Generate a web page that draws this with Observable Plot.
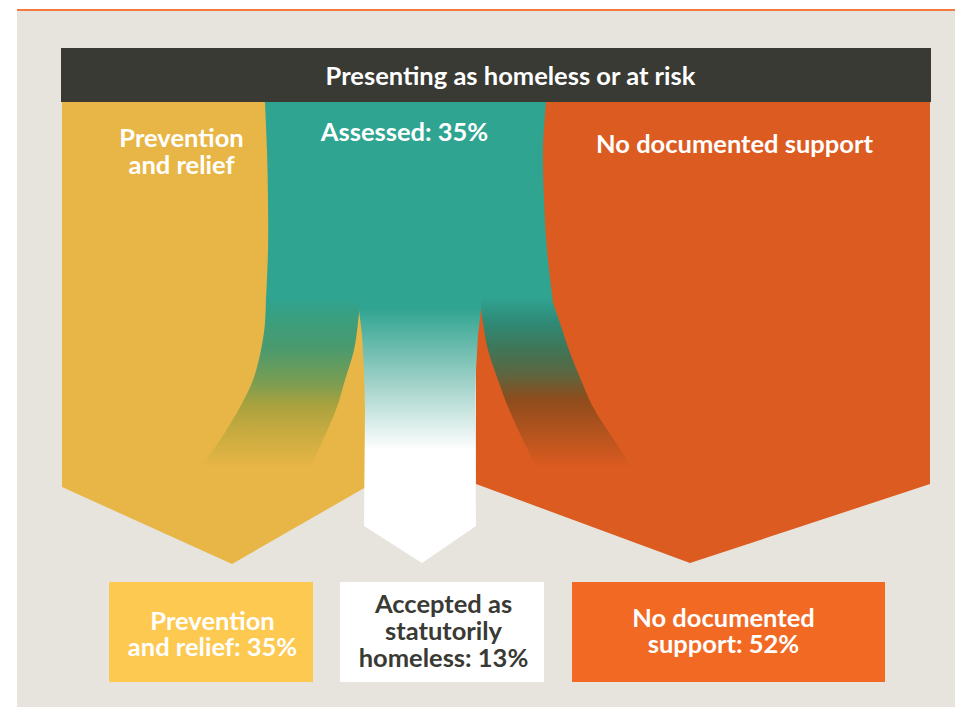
<!DOCTYPE html>
<html><head><meta charset="utf-8">
<script src="https://cdn.jsdelivr.net/npm/d3@7"></script>
<script src="https://cdn.jsdelivr.net/npm/@observablehq/plot@0.6"></script>
<style>body{margin:0;background:#fff} svg{display:block}</style>
</head><body><div id="chart"></div>
<script>
// ---------- DATA ----------
const headerLabel = "Presenting as homeless or at risk";
const assessedLabel = "Assessed";
const assessedShare = 35;
const outcomes = ["Prevention and relief", "Accepted as statutorily homeless", "No documented support"];
const outcomeShares = [35, 13, 52];
const outcomeLines = [["Prevention", "and relief"], ["Accepted as", "statutorily", "homeless"], ["No documented", "support"]];
const streamLines = [["Prevention", "and relief"], ["No documented support"]];

// ---------- STYLE ----------
const C = {
  frame: "#e7e4dd", rule: "#f47b3d", header: "#3a3a35",
  yellow: "#e8b646", teal: "#2fa491", orange: "#dc5b20",
  boxYellow: "#fdc951", boxWhite: "#ffffff", boxOrange: "#f26924", dark: "#3a3a35"
};
const font = "Lato, 'Open Sans', sans-serif";

// ---------- LAYOUT (drawing space, y downwards) ----------
const W = 955, H = 707;
const frame = [{x1: 17, x2: 955, y1: 11, y2: 707}];
const topRule = [{x1: 17, x2: 955, y1: 9, y2: 11}];
const headerBar = [{x1: 61, x2: 931, y1: 48, y2: 102}];
const yellowFlow = [{y: 102, x1: 62, x2: 366}, {y: 487, x1: 62, x2: 366}, {y: 564, x1: 232, x2: 232}];
const orangeFlow = [{y: 102, x1: 476, x2: 930}, {y: 484, x1: 476, x2: 930}, {y: 563, x1: 690, x2: 690}];
const tealBody = [
  {y: 102, x1: 265, x2: 546}, {y: 150, x1: 267, x2: 543}, {y: 200, x1: 268, x2: 544},
  {y: 250, x1: 268, x2: 547}, {y: 302, x1: 266, x2: 553}
];
const branchY = [297, 323, 350, 380, 407, 440, 468];
const leftBranch = d3.zip(branchY, [266, 265, 261, 253, 240, 220, 200], [361, 358, 354, 345, 337, 323, 310])
  .map(([y, x1, x2]) => ({y, x1, x2}));
const rightBranch = d3.zip(branchY, [480, 483, 488, 498, 508, 523, 537], [551, 560, 569, 581, 593, 614, 633])
  .map(([y, x1, x2]) => ({y, x1, x2}));
const whiteCol = [
  {y: 297, x1: 359, x2: 482}, {y: 310, x1: 359, x2: 481}, {y: 335, x1: 362, x2: 478},
  {y: 370, x1: 364, x2: 476}, {y: 410, x1: 365, x2: 475}, {y: 526, x1: 364, x2: 476},
  {y: 563, x1: 422, x2: 422}
];
const boxes = [
  {x1: 109, x2: 313, y1: 582, y2: 682}, {x1: 340, x2: 544, y1: 582, y2: 682}, {x1: 572, x2: 885, y1: 582, y2: 682}
];
const boxFill = [C.boxYellow, C.boxWhite, C.boxOrange];
const boxInk = ["#ffffff", C.dark, "#ffffff"];
const boxLabelX = [212, 443, 723];
const boxLabelY = [634, 631, 631];
const streamLabelPos = [{x: 181, y: 151.5}, {x: 734, y: 144}];
const assessedPos = [{x: 404, y: 132}];
const headerPos = [{x: 510, y: 76}];

// ---------- DERIVED TABLES ----------
const boxTable = outcomes.map((name, i) => ({
  ...boxes[i], name, share: outcomeShares[i],
  label: outcomeLines[i].join("\n") + ": " + outcomeShares[i] + "%",
  cx: boxLabelX[i], cy: boxLabelY[i], fill: boxFill[i], ink: boxInk[i]
}));
const streamTable = streamLines.map((lines, i) => ({...streamLabelPos[i], label: lines.join("\n")}));
const assessedTable = assessedPos.map(p => ({...p, label: `${assessedLabel}: ${assessedShare}%`}));
const headerTable = headerPos.map(p => ({...p, label: headerLabel}));

const fs = 25.5;
const chart = Plot.plot({
  width: W, height: H, margin: 0,
  x: {domain: [0, W], range: [0, W], axis: null},
  y: {domain: [0, H], range: [0, H], axis: null},
  style: {background: "#ffffff", fontFamily: font},
  marks: [
    Plot.rect(frame, {x1: "x1", x2: "x2", y1: "y1", y2: "y2", fill: C.frame}),
    Plot.rect(topRule, {x1: "x1", x2: "x2", y1: "y1", y2: "y2", fill: C.rule}),
    Plot.areaX(yellowFlow, {y: "y", x1: "x1", x2: "x2", fill: C.yellow}),
    Plot.areaX(orangeFlow, {y: "y", x1: "x1", x2: "x2", fill: C.orange}),
    Plot.areaX(tealBody, {y: "y", x1: "x1", x2: "x2", fill: C.teal, curve: "catmull-rom"}),
    Plot.areaX(leftBranch, {y: "y", x1: "x1", x2: "x2", fill: "url(#gLeft)", curve: "catmull-rom"}),
    Plot.areaX(rightBranch, {y: "y", x1: "x1", x2: "x2", fill: "url(#gRight)", curve: "catmull-rom"}),
    Plot.areaX(whiteCol, {y: "y", x1: "x1", x2: "x2", fill: "url(#gWhite)"}),
    Plot.rect(headerBar, {x1: "x1", x2: "x2", y1: "y1", y2: "y2", fill: C.header}),
    Plot.text(headerTable, {x: "x", y: "y", text: "label", fill: "#ffffff", fontSize: fs, fontWeight: "bold", fontFamily: font}),
    Plot.text(streamTable, {x: "x", y: "y", text: "label", fill: "#ffffff", fontSize: fs, fontWeight: "bold", fontFamily: font, lineHeight: 1.06}),
    Plot.text(assessedTable, {x: "x", y: "y", text: "label", fill: "#ffffff", fontSize: fs, fontWeight: "bold", fontFamily: font}),
    Plot.rect(boxTable, {x1: "x1", x2: "x2", y1: "y1", y2: "y2", fill: "fill"}),
    Plot.text(boxTable, {x: "cx", y: "cy", text: "label", fill: "ink", fontSize: fs, fontWeight: "bold", fontFamily: font, lineHeight: 1.05})
  ]
});

// gradient definitions for the fading flows
const defs = d3.select(chart).insert("defs", ":first-child");
function grad(id, stops) {
  const g = defs.append("linearGradient").attr("id", id).attr("x1", 0).attr("y1", 0).attr("x2", 0).attr("y2", 1);
  stops.forEach(([o, c]) => g.append("stop").attr("offset", o).attr("stop-color", c));
}
grad("gLeft", [[0, C.teal], [0.15, "#3c9e7c"], [0.3, "#4a9a6e"], [0.5, "#7a9d52"], [0.63, "#a9a23e"], [0.8, "#c9ab40"], [1, C.yellow]]);
grad("gRight", [[0, C.teal], [0.15, "#2f8a76"], [0.3, "#3f7658"], [0.45, "#5c6640"], [0.6, "#8f4c1c"], [0.8, "#b5541e"], [1, C.orange]]);
grad("gWhite", [[0, C.teal], [0.04, C.teal], [0.3, "#97cdc3"], [0.575, "#ffffff"], [1, "#ffffff"]]);

document.getElementById("chart").append(chart);
</script>
</body></html>
